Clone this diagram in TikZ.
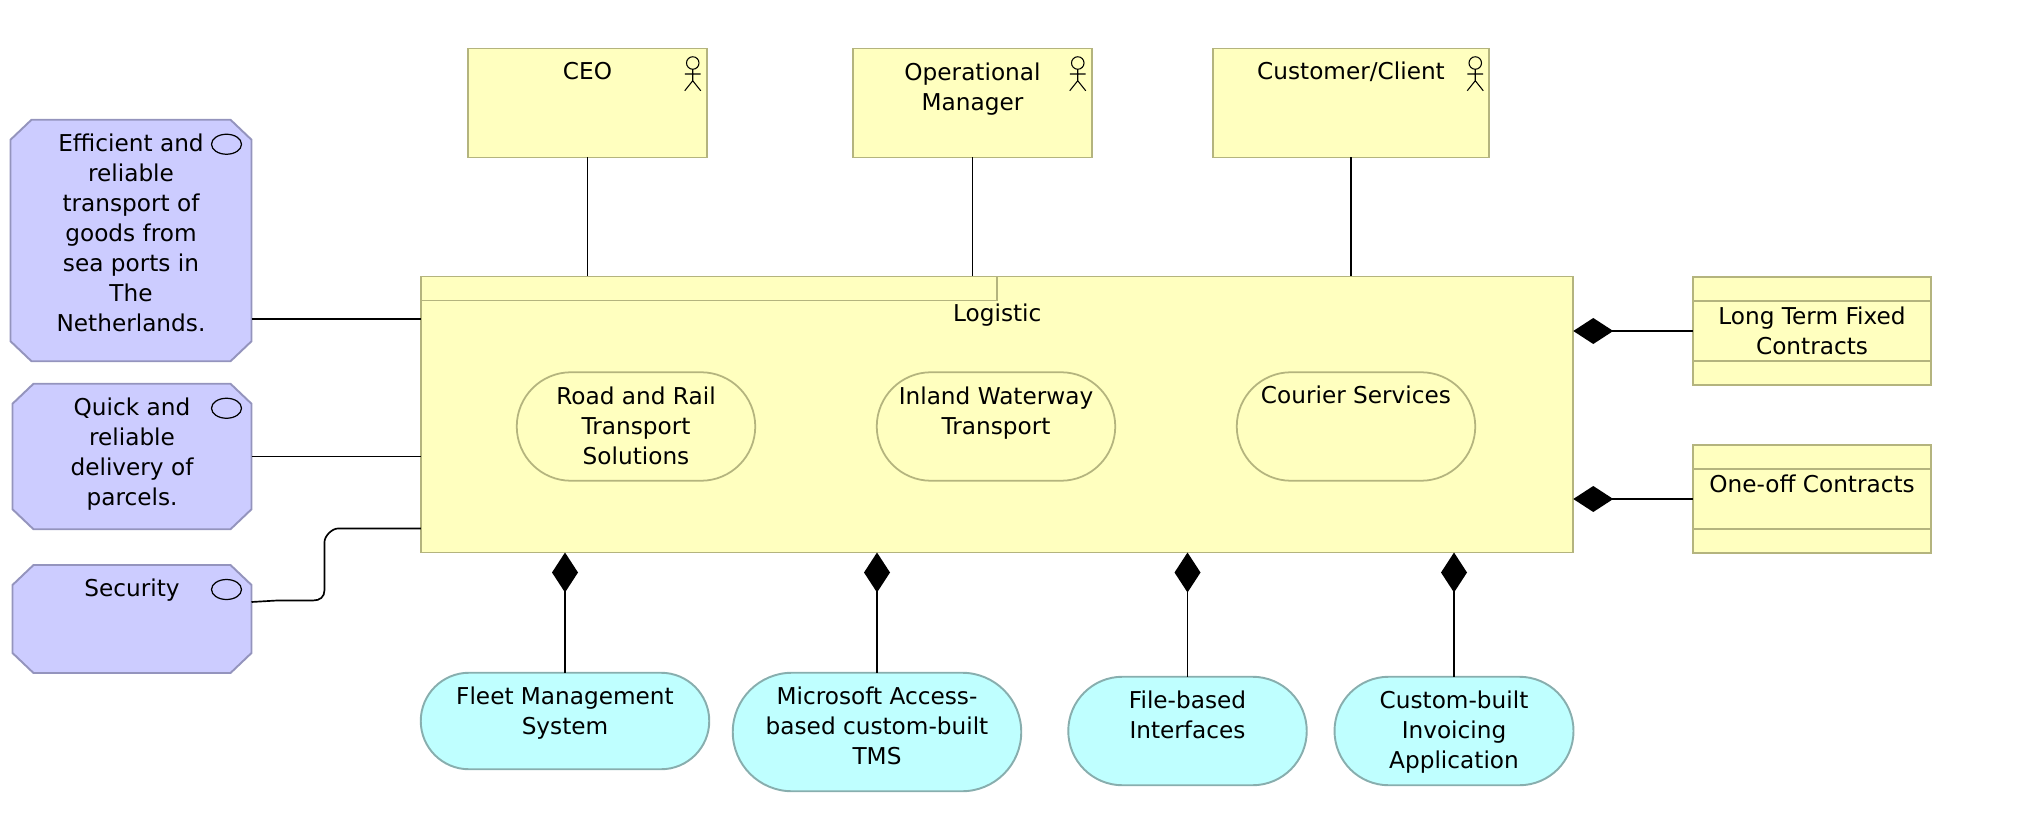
\documentclass[tikz,border=0pt]{standalone}
\usepackage{fontspec}
\setmainfont{DejaVu Sans}
\usetikzlibrary{arrows.meta,shapes.misc}

\definecolor{busfill}{HTML}{FFFFBF}
\definecolor{busline}{HTML}{B4B47E}
\definecolor{motfill}{HTML}{CCCCFF}
\definecolor{motline}{HTML}{9494BD}
\definecolor{appfill}{HTML}{BFFFFF}
\definecolor{appline}{HTML}{88AEAE}

\tikzset{
  box/.style={draw=busline,fill=busfill,line width=1.1pt,inner sep=0,outer sep=0,rectangle,minimum width=#1},
  service/.style={draw=busline,fill=busfill,line width=1pt,inner sep=0,outer sep=0,rounded rectangle,minimum width=4.77cm,minimum height=2.17cm},
  goal/.style={inner sep=0,outer sep=0,rectangle,minimum width=4.78cm},
  goalshape/.style={draw=motline,fill=motfill,line width=1.1pt,line join=round},
  app/.style={draw=appline,fill=appfill,line width=1.1pt,inner sep=0,outer sep=0,rounded rectangle,minimum width=#1},
  lbl/.style={anchor=north,inner sep=0,align=center,font=\fontsize{13.2}{17}\selectfont,execute at begin node=\strut},
  lines/.style={lbl,yshift=-.085cm},
  link/.style={line width=.95pt,black},
  comp/.style={link,{Diamond[length=.8cm,width=.52cm]}-},
  actor/.pic={
    \draw[line width=.6pt] (0,0) circle (.125);
    \draw[line width=.6pt] (0,-.125) -- (0,-.355) (-.16,-.22) -- (.155,-.22) (-.16,-.555) -- (0,-.355) -- (.16,-.555);
  }
}

\begin{document}
\begin{tikzpicture}
\useasboundingbox (0,0) rectangle (40.48,16.56);

% roles
\node[box=4.77cm,minimum height=2.18cm] (ceo) at (11.75,14.50) {};
\node[box=4.77cm,minimum height=2.18cm] (opman) at (19.45,14.50) {};
\node[box=5.53cm,minimum height=2.18cm] (client) at (27.02,14.50) {};
\foreach \n in {ceo,opman,client}
  \pic at ([shift={(-.28,-.29)}]\n.north east) {actor};
\node[lbl] (ceotext) at ([yshift=-.2cm]ceo.north) {CEO};
\node[lines] (opmantext) at ([yshift=-.2cm]opman.north) {Operational\\Manager};
\node[lbl] (clienttext) at ([yshift=-.2cm]client.north) {Customer/Client};

% main block
\node[box=23.05cm,minimum height=5.52cm] (logistic) at (19.94,8.27) {};
\node[box=11.53cm,minimum height=.48cm,anchor=north west] (tab) at (logistic.north west) {};
\node[lbl] (logistictext) at (tab.south east) {Logistic};
\node[service] (road) at (12.72,8.03) {};
\node[service] (inland) at (19.92,8.03) {};
\node[service] (courier) at (27.12,8.03) {};
\node[lines] (roadtext) at ([yshift=-.2cm]road.north) {Road and Rail\\Transport\\Solutions};
\node[lines] (inlandtext) at ([yshift=-.2cm]inland.north) {Inland Waterway\\Transport};
\node[lbl] (couriertext) at ([yshift=-.2cm]courier.north) {Courier Services};

% contracts
\node[box=4.77cm,minimum height=2.17cm] (long) at (36.24,9.94) {};
\node[box=4.77cm,minimum height=2.17cm] (oneoff) at (36.24,6.58) {};
\foreach \n in {long,oneoff} {
  \draw[busline,line width=1pt] ([yshift=-.48cm]\n.north west) -- ([yshift=-.48cm]\n.north east);
  \draw[busline,line width=1pt] ([yshift=.48cm]\n.south west) -- ([yshift=.48cm]\n.south east);
}
\node[lines] (longtext) at ([yshift=-.52cm]long.north) {Long Term Fixed\\Contracts};
\node[lbl] (oneofftext) at ([yshift=-.52cm]oneoff.north) {One-off Contracts};

% goals
\node[goal,minimum width=4.82cm,minimum height=4.83cm] (efficient) at (2.62,11.75) {};
\node[goal,minimum height=2.91cm] (quick) at (2.64,7.43) {};
\node[goal,minimum height=2.16cm] (security) at (2.64,4.18) {};
\foreach \n in {efficient,quick,security} {
  \draw[goalshape] ([xshift=.42cm]\n.north west) -- ([xshift=-.42cm]\n.north east) -- ([yshift=-.4cm]\n.north east)
    -- ([yshift=.4cm]\n.south east) -- ([xshift=-.42cm]\n.south east) -- ([xshift=.42cm]\n.south west)
    -- ([yshift=.4cm]\n.south west) -- ([yshift=-.4cm]\n.north west) -- cycle;
  \draw[line width=.7pt] ([shift={(-.5,-.49)}]\n.north east) ellipse (.3 and .2);
}
\node[lines] (efficienttext) at ([yshift=-.2cm]efficient.north) {Efficient and\\reliable\\transport of\\goods from\\sea ports in\\The\\Netherlands.};
\node[lines] (quicktext) at ([yshift=-.2cm]quick.north) {Quick and\\reliable\\delivery of\\parcels.};
\node[lbl] (securitytext) at ([yshift=-.2cm]security.north) {Security};

% applications
\node[app=5.77cm,minimum height=1.93cm] (fleet) at (11.30,2.14) {};
\node[app=5.77cm,minimum height=2.37cm] (access) at (17.54,1.92) {};
\node[app=4.77cm,minimum height=2.17cm] (filei) at (23.75,1.94) {};
\node[app=4.78cm,minimum height=2.17cm] (invoice) at (29.08,1.94) {};
\node[lines] (fleettext) at ([yshift=-.2cm]fleet.north) {Fleet Management\\System};
\node[lines] (accesstext) at ([yshift=-.2cm]access.north) {Microsoft Access-\\based custom-built\\TMS};
\node[lines] (fileitext) at ([yshift=-.2cm]filei.north) {File-based\\Interfaces};
\node[lines] (invoicetext) at ([yshift=-.2cm]invoice.north) {Custom-built\\Invoicing\\Application};

% connectors
\foreach \n in {ceo,opman,client}
  \draw[link] (\n.south) -- (\n.south |- logistic.north);
\coordinate (effout) at ([yshift=-1.57cm]efficient.east);
\draw[link] (effout) -- (effout -| logistic.west);
\draw[link] (quick.east) -- (quick.east -| logistic.west);
\coordinate (secout) at ([yshift=.34cm]security.east);
\coordinate (logout) at ([yshift=-2.28cm]logistic.west);
\draw[link] (secout) -- (5.54,4.55) -- (6.26,4.55) .. controls (6.40,4.55) and (6.49,4.62) .. (6.49,4.76)
  -- (6.49,5.72) .. controls (6.49,5.84) and (6.64,5.99) .. (6.76,5.99) -- (logout);
\foreach \n in {fleet,access,filei,invoice}
  \draw[comp] (\n.north |- logistic.south) -- (\n.north);
\foreach \n in {long,oneoff}
  \draw[comp] (\n.west -| logistic.east) -- (\n.west);
\end{tikzpicture}
\end{document}
